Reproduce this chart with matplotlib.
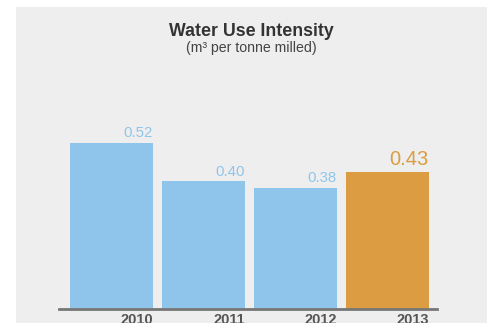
import matplotlib.pyplot as plt
from matplotlib.patches import Rectangle
import numpy as np

years = ["2010", "2011", "2012", "2013"]
values = [0.52, 0.40, 0.38, 0.43]
labels = ["0.52", "0.40", "0.38", "0.43"]

BLUE = "#8fc5eb"
ORANGE = "#db9c42"
plt.rcParams['font.family'] = ['Liberation Sans', 'DejaVu Sans']

W, H = 488, 323
fig = plt.figure(figsize=(W / 100, H / 100), dpi=100)
fig.patch.set_facecolor("white")
# grey panel behind the chart
fig.patches.append(Rectangle((16 / W, 0), (487 - 16) / W, (H - 7) / H,
                             transform=fig.transFigure, facecolor="#eeeeee",
                             edgecolor="none", zorder=-5))

ax = fig.add_axes([59 / W, 14 / H, (437 - 59) / W, (309 - 7) / H])
ax.set_facecolor("none")

x = np.arange(len(years))
colors = [BLUE] * 3 + [ORANGE]
ax.bar(x, values, width=0.9, color=colors, zorder=2)

for i, (v, lab) in enumerate(zip(values, labels)):
    last = i == len(values) - 1
    ax.annotate(lab, (x[i] + 0.45, v), xytext=(0, 2), textcoords="offset points",
                ha="right", va="bottom", color=ORANGE if last else BLUE,
                fontsize=14.5 if last else 10.8)

ax.set_xlim(-0.57, 3.54)
ax.set_ylim(0, 0.946)
ax.set_xticks(x + 0.45)
ax.set_xticklabels(years, ha="right", color="#555555", fontsize=10.5,
                   fontweight="bold")
ax.tick_params(axis="x", length=0, pad=3)
ax.set_yticks([])
for s in ["top", "left", "right"]:
    ax.spines[s].set_visible(False)
ax.spines["bottom"].set_color("#777777")
ax.spines["bottom"].set_linewidth(2)
ax.spines["bottom"].set_zorder(3)

fig.text(251 / W, 1 - 31 / H, "Water Use Intensity", ha="center", va="center",
         fontsize=12.8, fontweight="bold", color="#333333")
fig.text(251 / W, 1 - 48 / H, "(m³ per tonne milled)", ha="center", va="center",
         fontsize=10.2, color="#444444")

fig.savefig("out.png", dpi=100)
